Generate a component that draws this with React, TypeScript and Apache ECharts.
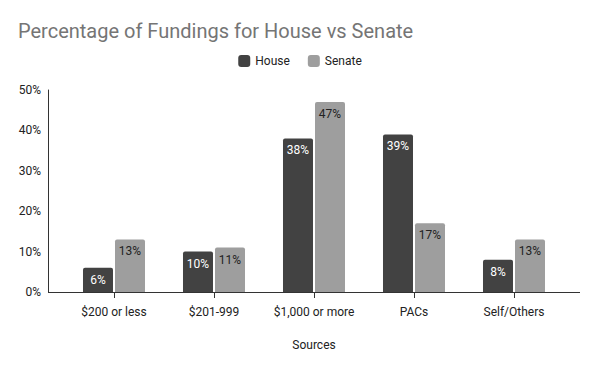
import React, { useEffect, useRef } from "react";
import * as echarts from "echarts";

const categories = ["$200 or less", "$201-999", "$1,000 or more", "PACs", "Self/Others"];
const houseValues = [6, 10, 38, 39, 8];
const senateValues = [13, 11, 47, 17, 13];
const yTicks = { min: 0, max: 50, interval: 10 };

export default function App() {
  const ref = useRef<HTMLDivElement>(null);
  useEffect(() => {
    if (!ref.current) return;
    const chart = echarts.init(ref.current, null, { renderer: "svg" });
    const font = "Roboto";
    chart.setOption({
      animation: false,
      backgroundColor: "#ffffff",
      title: {
        text: "Percentage of Fundings for House vs Senate",
        left: 18,
        top: 21,
        padding: 0,
        textStyle: { fontFamily: font, fontSize: 20, fontWeight: "normal", color: "#757575" },
      },
      legend: {
        data: ["House", "Senate"],
        top: 55,
        left: "center",
        padding: 0,
        itemWidth: 12,
        itemHeight: 12,
        itemGap: 18,
        icon: "roundRect",
        textStyle: { fontFamily: font, fontSize: 12, color: "#222222" },
      },
      grid: { left: 64, right: 36, top: 90, bottom: 79, containLabel: false },
      xAxis: {
        type: "category",
        data: categories,
        name: "Sources",
        nameLocation: "middle",
        nameGap: 47,
        nameTextStyle: { fontFamily: font, fontSize: 12, color: "#222222" },
        axisLine: { show: false },
        axisTick: { show: true, alignWithLabel: true, length: 6, lineStyle: { color: "#333" } },
        axisLabel: { fontFamily: font, fontSize: 12, color: "#222222", margin: 14, interval: 0 },
      },
      yAxis: {
        type: "value",
        min: yTicks.min,
        max: yTicks.max,
        interval: yTicks.interval,
        offset: 16,
        axisLine: { show: true, lineStyle: { color: "#333333" } },
        axisTick: { show: false },
        splitLine: { show: false },
        axisLabel: { fontFamily: font, fontSize: 12, color: "#222222", formatter: "{value}%", margin: 7 },
      },
      graphic: [
        {
          type: "line",
          shape: { x1: 48, y1: 292.5, x2: 580, y2: 292.5 },
          style: { stroke: "#333333", lineWidth: 1 },
          z: 10,
        },
      ],
      series: [
        {
          name: "House",
          type: "bar",
          data: houseValues,
          barWidth: "30%",
          barGap: "6.7%",
          itemStyle: { color: "#424242", borderRadius: [2, 2, 0, 0] },
          label: {
            show: true,
            position: "insideTop",
            distance: 6,
            formatter: "{c}%",
            fontFamily: font,
            fontSize: 12,
            color: "#ffffff",
          },
        },
        {
          name: "Senate",
          type: "bar",
          data: senateValues,
          barWidth: "30%",
          itemStyle: { color: "#9e9e9e", borderRadius: [2, 2, 0, 0] },
          label: {
            show: true,
            position: "insideTop",
            distance: 6,
            formatter: "{c}%",
            fontFamily: font,
            fontSize: 12,
            color: "#222222",
          },
        },
      ],
    });
    return () => chart.dispose();
  }, []);
  return <div ref={ref} style={{ width: 600, height: 371, position: "absolute", left: 0, top: 0 }} />;
}
